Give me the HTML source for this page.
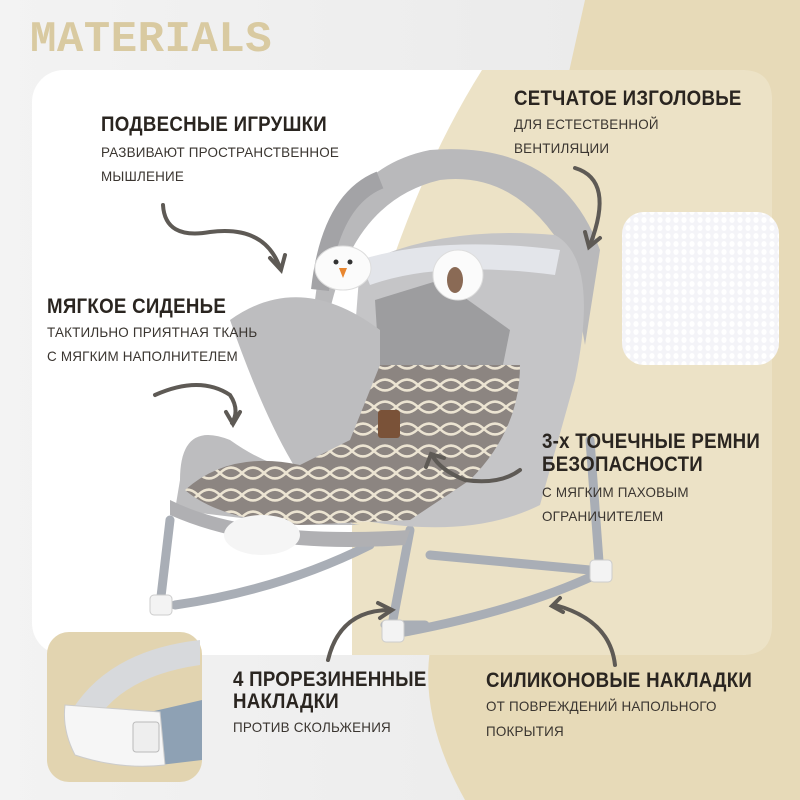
<!DOCTYPE html>
<html><head><meta charset="utf-8"><style>
body{margin:0;width:800px;height:800px;overflow:hidden;position:relative;background:#efefef;font-family:"Liberation Sans",sans-serif;}
.t{position:absolute;color:#2a2520;white-space:nowrap;transform-origin:0 0;}
.h{font-weight:bold;font-size:21px;letter-spacing:0.3px;transform:scaleX(0.89)}
.s{font-size:14px;color:#3a3530;letter-spacing:0.2px;transform:scaleX(0.96)}
</style></head><body>
<svg width="800" height="800" style="position:absolute;left:0;top:0">
<defs>
<linearGradient id="bg" x1="0" x2="1"><stop offset="0" stop-color="#f3f3f3"/><stop offset="1" stop-color="#e8e8e8"/></linearGradient>
<pattern id="mesh" width="8" height="8" patternUnits="userSpaceOnUse"><rect width="8" height="8" fill="#f4f4f8"/><ellipse cx="4" cy="4" rx="2.6" ry="3" fill="#fff"/></pattern>
<pattern id="geo" width="22" height="22" patternUnits="userSpaceOnUse"><rect width="22" height="22" fill="#8c8581"/><path d="M0 11 Q11 0 22 11 Q11 22 0 11" fill="none" stroke="#ece4d2" stroke-width="2.5"/></pattern>
</defs>
<rect width="800" height="800" fill="url(#bg)"/>
<path d="M585 0 L800 0 L800 800 L465 800 Q420 720 430 650 L440 650 L585 0Z" fill="#e7dab8"/>
<rect x="32" y="70" width="740" height="585" rx="32" fill="#fff"/>
<path d="M482 70 L742 70 Q772 70 772 100 L772 625 Q772 655 742 655 L352 655 L352 400 Q400 200 482 70Z" fill="#ece2c6"/>
<rect x="622" y="212" width="157" height="153" rx="22" fill="url(#mesh)"/>
<g stroke="#a9aeb6" stroke-width="9" fill="none" stroke-linecap="round">
<path d="M170 520 L160 605"/><path d="M410 530 L392 625"/><path d="M590 440 L600 575"/>
<path d="M175 605 Q280 590 370 545"/><path d="M405 632 Q520 610 595 575"/>
<path d="M425 625 L385 625"/><path d="M430 555 L590 570"/>
</g>
<g fill="#f3f3f3" stroke="#ccc"><rect x="150" y="595" width="22" height="20" rx="4"/><rect x="382" y="620" width="22" height="22" rx="4"/><rect x="590" y="560" width="22" height="22" rx="4"/></g>
<path d="M315 300 Q330 170 430 150 Q560 140 600 250 L585 345 L570 260 Q520 170 440 180 Q355 200 330 310Z" fill="#b9b9bb"/>
<path d="M320 290 Q330 200 380 180" stroke="#a3a3a6" stroke-width="18" fill="none"/>
<path d="M360 265 Q440 225 555 235 Q600 260 575 380 L540 505 Q470 540 360 520 Q330 460 355 330Z" fill="#c5c5c7"/>
<path d="M375 300 L440 280 L510 330 L500 380 L380 380Z" fill="#9d9d9f"/>
<path d="M360 260 Q440 235 560 250 L555 275 Q440 260 370 285Z" fill="#e3e5ea"/>
<path d="M230 320 Q300 270 380 330 L380 470 Q300 490 230 440 Q180 420 180 480 L175 510 L300 525 L360 525 Q300 520 230 320Z" fill="#bdbdbf"/>
<path d="M380 365 L520 365 Q520 430 470 480 L410 520 L300 525 Q220 520 185 490 Q230 450 300 465 L350 440Z" fill="url(#geo)"/>
<path d="M170 500 Q250 540 410 530 L405 545 Q260 555 170 515Z" fill="#b0b0b3"/>
<ellipse cx="262" cy="535" rx="38" ry="20" fill="#f5f5f5"/>
<rect x="378" y="410" width="22" height="28" rx="3" fill="#7a5238"/>
<ellipse cx="343" cy="268" rx="28" ry="22" fill="#fbfbfb" stroke="#ddd"/><circle cx="336" cy="262" r="2.5" fill="#333"/><circle cx="350" cy="262" r="2.5" fill="#333"/><path d="M339 268 L347 268 L343 278Z" fill="#e8862f"/>
<ellipse cx="458" cy="275" rx="25" ry="25" fill="#fbfbfb" stroke="#ddd"/><ellipse cx="455" cy="280" rx="8" ry="13" fill="#8a6a55"/>
<g stroke="#5e5a55" stroke-width="4" fill="none" stroke-linecap="round">
<path d="M163 205 Q165 240 210 232 Q265 225 280 268"/><path d="M270 258 L281 270 L285 255"/>
<path d="M575 168 Q615 180 590 245"/><path d="M585 232 L589 247 L600 238"/>
<path d="M155 395 Q200 375 230 395 Q240 410 232 423"/><path d="M226 412 L233 424 L240 412"/>
<path d="M520 470 Q500 485 465 480 Q440 470 432 455"/><path d="M426 467 L431 454 L444 458"/>
<path d="M328 660 Q340 610 390 610"/><path d="M378 603 L392 610 L380 618"/>
<path d="M615 665 Q610 620 555 605"/><path d="M560 598 L552 606 L563 612"/>
</g>
<rect x="47" y="632" width="155" height="150" rx="22" fill="#e2d4b0"/>
<path d="M72 710 Q110 650 200 640 L200 665 Q130 675 100 715Z" fill="#d7d9dc"/>
<path d="M150 712 L202 700 L202 760 L160 765Z" fill="#8ea1b4"/>
<path d="M65 705 L160 712 L165 765 Q120 770 75 755 Q62 730 65 705Z" fill="#f6f6f6" stroke="#ccc"/>
<rect x="133" y="722" width="26" height="30" rx="3" fill="#eee" stroke="#bbb"/>
</svg>
<div class="t" style="left:30px;top:15px;font-family:'Liberation Mono',monospace;font-weight:bold;font-size:44px;color:#d9caa1;letter-spacing:0.5px">MATERIALS</div>
<div class="t h" style="left:101px;top:113px">ПОДВЕСНЫЕ ИГРУШКИ</div>
<div class="t s" style="left:101px;top:144px">РАЗВИВАЮТ ПРОСТРАНСТВЕННОЕ</div>
<div class="t s" style="left:101px;top:168px">МЫШЛЕНИЕ</div>
<div class="t h" style="left:514px;top:87px">СЕТЧАТОЕ ИЗГОЛОВЬЕ</div>
<div class="t s" style="left:514px;top:116px">ДЛЯ ЕСТЕСТВЕННОЙ</div>
<div class="t s" style="left:514px;top:140px">ВЕНТИЛЯЦИИ</div>
<div class="t h" style="left:47px;top:295px">МЯГКОЕ СИДЕНЬЕ</div>
<div class="t s" style="left:47px;top:324px">ТАКТИЛЬНО ПРИЯТНАЯ ТКАНЬ</div>
<div class="t s" style="left:47px;top:348px">С МЯГКИМ НАПОЛНИТЕЛЕМ</div>
<div class="t h" style="left:542px;top:430px;line-height:23px">3-х ТОЧЕЧНЫЕ РЕМНИ<br>БЕЗОПАСНОСТИ</div>
<div class="t s" style="left:542px;top:484px">С МЯГКИМ ПАХОВЫМ</div>
<div class="t s" style="left:542px;top:508px">ОГРАНИЧИТЕЛЕМ</div>
<div class="t h" style="left:233px;top:669px;line-height:22px">4 ПРОРЕЗИНЕННЫЕ<br>НАКЛАДКИ</div>
<div class="t s" style="left:233px;top:719px">ПРОТИВ СКОЛЬЖЕНИЯ</div>
<div class="t h" style="left:486px;top:669px">СИЛИКОНОВЫЕ НАКЛАДКИ</div>
<div class="t s" style="left:486px;top:698px">ОТ ПОВРЕЖДЕНИЙ НАПОЛЬНОГО</div>
<div class="t s" style="left:486px;top:723px">ПОКРЫТИЯ</div>
</body></html>
